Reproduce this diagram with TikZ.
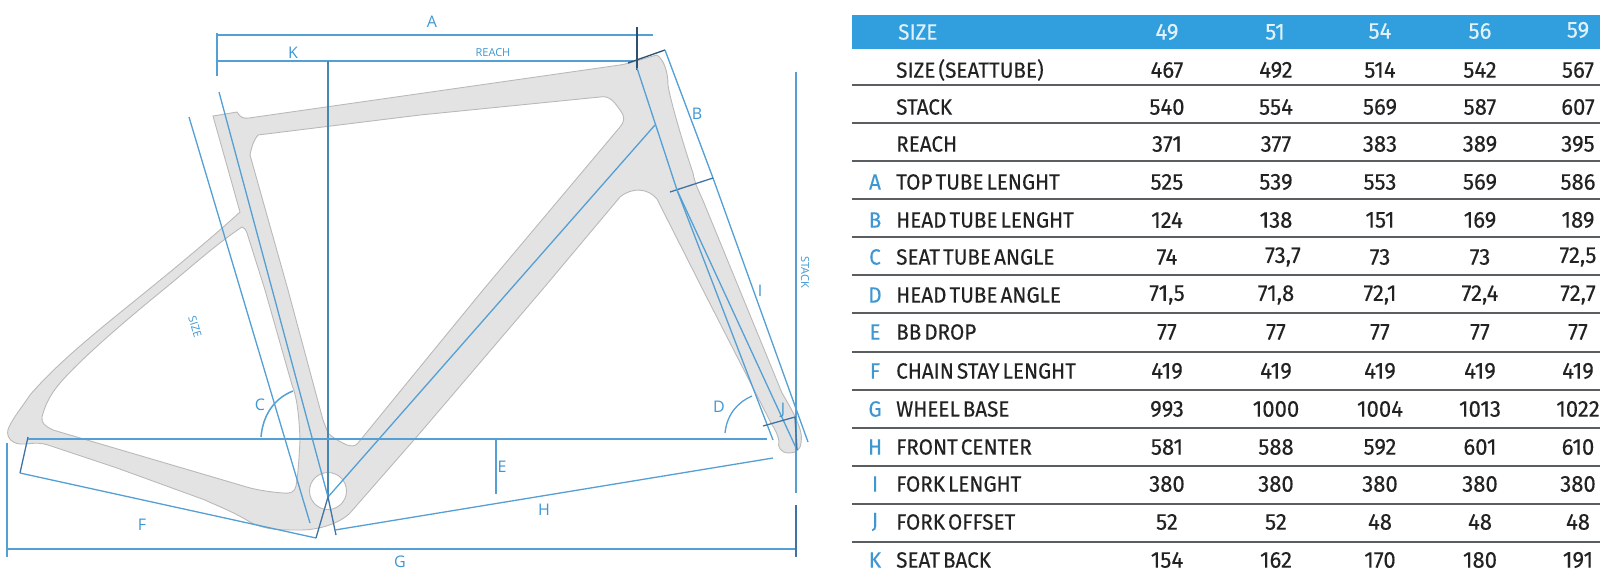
\documentclass[tikz,border=0pt]{standalone}
\usepackage{fontspec}
\setmainfont{Fira Sans}
\newfontfamily\tabfont[FakeStretch=0.94,FakeBold=0.3,WordSpace=0.55]{Fira Sans}
\newfontfamily\numfont[FakeStretch=0.96,FakeBold=0.25]{Fira Sans}
\newfontfamily\dimfont{Open Sans}
\definecolor{dimblue}{HTML}{549FD4}
\definecolor{darkdim}{HTML}{3F73A3}
\definecolor{lettblue}{HTML}{3E97D1}
\definecolor{headblue}{HTML}{319FDD}
\definecolor{framefill}{HTML}{E3E3E3}
\definecolor{frameline}{HTML}{B9B9B9}
\definecolor{rule}{HTML}{5A5E60}
\definecolor{ink}{HTML}{222222}
\tikzset{
  dimline/.style={draw=dimblue,line width=1.3pt},
  darkline/.style={draw=darkdim,line width=1.3pt},
  dimlabel/.style={text=lettblue,font=\dimfont\fontsize{16}{16}\selectfont,inner sep=0pt},
  smalllabel/.style={text=lettblue,font=\dimfont\fontsize{11}{11}\selectfont,inner sep=0pt},
  rowlabel/.style={text=ink,font=\tabfont\fontsize{22}{22}\selectfont,anchor=west,inner sep=0pt},
  rowvalue/.style={text=ink,font=\numfont\fontsize{23}{23}\selectfont,inner sep=0pt},
  headtext/.style={text=white!85!headblue,font=\numfont\fontsize{23}{23}\selectfont,inner sep=0pt},
  headlabel/.style={text=white!85!headblue,font=\tabfont\fontsize{22}{22}\selectfont,inner sep=0pt,anchor=west},
  rowletter/.style={text=lettblue,font=\tabfont\fontsize{22}{22}\selectfont,inner sep=0pt},
  rowrule/.style={draw=rule,line width=1.7pt},
}
\newcommand{\trow}[9]{%
  \node[rowletter] (l#1) at (875,#2) {#3};
  \node[rowlabel] (t#1) at (896,#2) {#4};
  \node[rowvalue] (a#1) at (1167,#2) {#5};
  \node[rowvalue] (b#1) at (1276,#2) {#6};
  \node[rowvalue] (c#1) at (1380,#2) {#7};
  \node[rowvalue] (d#1) at (1480,#2) {#8};
  \node[rowvalue] (e#1) at (1578,#2) {#9};
}
\begin{document}
\begin{tikzpicture}[x=1pt,y=-1pt]
\useasboundingbox (0,0) rectangle (1610,579);
% frame
\path[fill=framefill,draw=frameline,line width=0.9pt,even odd rule]
  (213,116) -- (237,112) .. controls (240,117) and (243,119) .. (249,118)
  -- (620,65) .. controls (632,63) and (645,58) .. (657,55)
  .. controls (664,60) and (668,72) .. (668,85)
  .. controls (670,100) and (685,150) .. (693,173)
  .. controls (695,185) and (700,193) .. (704,203)
  -- (782,393) .. controls (792,410) and (804,430) .. (801,443)
  .. controls (800,451) and (795,453) .. (789,453)
  .. controls (781,453) and (777,447) .. (779,441)
  .. controls (778,435) and (775,429) .. (771,423)
  -- (703,290) -- (657,199)
  .. controls (648,188) and (632,187) .. (620,197)
  -- (542,290) -- (420,433) -- (350,513)
  .. controls (340,523) and (320,530) .. (300,530)
  .. controls (280,530) and (265,530) .. (250,522)
  .. controls (230,510) and (215,505) .. (205,500)
  -- (117,468) -- (48,445)
  .. controls (35,441) and (28,445) .. (20,444)
  .. controls (10,443) and (5,435) .. (9,427)
  .. controls (15,415) and (20,410) .. (30,395)
  .. controls (60,360) and (105,325) .. (148,290)
  .. controls (180,264) and (215,235) .. (240,212)
  -- cycle
  % front triangle hole
  (258,135) -- (420,115) -- (600,97)
  .. controls (610,95) and (615,103) .. (620,110)
  .. controls (626,118) and (624,122) .. (620,127)
  -- (483,290) -- (420,367) -- (358,443)
  .. controls (355,447) and (351,446) .. (347,445)
  .. controls (338,441) and (332,437) .. (328,433)
  -- (323,420) -- (288,290) -- (250,155)
  .. controls (252,145) and (254,140) .. (258,135) -- cycle
  % rear triangle hole
  (242,227) .. controls (245,228) and (246,230) .. (247,233)
  -- (265,290) -- (292,385)
  .. controls (296,395) and (299,410) .. (300,440)
  .. controls (299,460) and (298,475) .. (296,486)
  .. controls (295,492) and (290,494) .. (283,493)
  .. controls (270,492) and (255,490) .. (240,485)
  -- (53,430) .. controls (45,426) and (41,423) .. (42,417)
  .. controls (45,405) and (50,395) .. (60,383)
  .. controls (80,360) and (120,325) .. (163,290)
  .. controls (190,268) and (215,245) .. (242,227) -- cycle
  (346.5,491) arc[start angle=0,end angle=360,radius=18.5];
% named points
\coordinate (aL) at (217,35);\coordinate (aR) at (653,35);
\coordinate (kL) at (217,61);\coordinate (kR) at (633,61);
\coordinate (tickTop) at (217,33);\coordinate (tickBot) at (217,76);
\coordinate (kv) at (328,61);\coordinate (bb) at (328,497);
\coordinate (hdTop) at (637,27);\coordinate (hdBot) at (637,70);
\coordinate (capL) at (628,63);\coordinate (capR) at (665,50);
\coordinate (bEnd) at (713,178);\coordinate (iEnd) at (808,442);
\coordinate (cnTick) at (670,192);
\coordinate (steerT) at (637,68);\coordinate (steerM) at (677,190);\coordinate (steerB) at (773,440);
\coordinate (forkB) at (797,450);
\coordinate (stT) at (219,92);
\coordinate (szT) at (189,117);\coordinate (szB) at (310,523);
\coordinate (dtT) at (655,125);
\coordinate (fA) at (28,437);\coordinate (fB) at (20,473);\coordinate (fC) at (316,538);
\coordinate (hA) at (336,535);\coordinate (hB) at (335,530);\coordinate (hC) at (773,458);
\coordinate (wbL) at (28,439);\coordinate (wbR) at (767,439);
\coordinate (gL) at (7,549);\coordinate (gR) at (796,549);
\coordinate (gLt) at (7,443);\coordinate (gLb) at (7,557);
\coordinate (gRt) at (796,505);\coordinate (gRb) at (796,557);
\coordinate (stackT) at (796,72);\coordinate (stackB) at (796,493);
\coordinate (eT) at (496,439);\coordinate (eB) at (496,494);
\coordinate (jL) at (763,426);\coordinate (jR) at (795,417);
\coordinate (cA) at (261,437);\coordinate (cB) at (293,391);
\coordinate (dA) at (725,433);\coordinate (dB) at (752,396);
% dimension lines
\draw[dimline] (aL) -- (aR);
\draw[dimline] (kL) -- (kR);
\draw[dimline] (tickTop) -- (tickBot);
\draw[dimline,draw=dimblue!85!black] (kv) -- (bb);
\draw[darkline,draw=darkdim!70!black] (hdTop) -- (hdBot);
\draw[darkline,draw=darkdim!70!black] (capL) -- (capR);
\draw[dimline] (capR) -- (bEnd) -- (iEnd);
\draw[darkline] (cnTick) -- (bEnd);
\draw[dimline] (steerT) -- (steerM) -- (steerB);
\draw[dimline] (steerM) -- (forkB);
\draw[dimline] (stT) -- (bb);
\draw[dimline] (szT) -- (szB);
\draw[dimline] (bb) -- (dtT);
\draw[darkline] (fA) -- (fB);
\draw[dimline] (fB) -- (fC);
\draw[darkline] (fC) -- (bb) -- (hA);
\draw[dimline] (hB) -- (hC);
\draw[dimline] (wbL) -- (wbR);
\draw[dimline] (gL) -- (gR);
\draw[dimline] (gLt) -- (gLb);
\draw[darkline] (gRt) -- (gRb);
\draw[dimline] (stackT) -- (stackB);
\draw[dimline] (eT) -- (eB);
\draw[darkline] (jL) -- (jR) -- (forkB);
\draw[dimline,line width=1.5pt] (cA) .. controls (263,414) and (275,398) .. (cB);
\draw[dimline,line width=1.3pt] (dA) .. controls (727,414) and (738,402) .. (dB);
% dimension labels
\node[dimlabel] (lbA) at (432,22) {A};
\node[dimlabel] (lbK) at (293,53) {K};
\node[smalllabel] (lbReach) at (493,53) {REACH};
\node[dimlabel] (lbB) at (697,114) {B};
\node[dimlabel] (lbI) at (760,291) {I};
\node[smalllabel,rotate=-90] (lbStack) at (805,272) {STACK};
\node[smalllabel,rotate=-73] (lbSize) at (195,327) {SIZE};
\node[dimlabel] (lbC) at (260,405) {C};
\node[dimlabel] (lbD) at (719,407) {D};
\node[dimlabel] (lbJ) at (783,410) {J};
\node[dimlabel] (lbE) at (502,467) {E};
\node[dimlabel] (lbH) at (544,510) {H};
\node[dimlabel] (lbF) at (142,525) {F};
\node[dimlabel] (lbG) at (400,562) {G};
% table
\fill[headblue] (852,15) rectangle (1600,49);
\node[headlabel] (hSize) at (898,32) {SIZE};
\node[headtext] (h49) at (1167,32) {49};
\node[headtext] (h51) at (1275,32) {51};
\node[headtext] (h54) at (1380,31) {54};
\node[headtext] (h56) at (1480,31) {56};
\node[headtext] (h59) at (1578,30) {59};
\foreach \y in {85,123,161,199,237,275,313,352,390,428,466,504,542}
  \draw[rowrule] (852,\y) -- (1600,\y);
\trow{r1}{70}{}{SIZE (SEATTUBE)}{467}{492}{514}{542}{567}
\trow{r2}{107}{}{STACK}{540}{554}{569}{587}{607}
\trow{r3}{144}{}{REACH}{371}{377}{383}{389}{395}
\trow{r4}{182}{A}{TOP TUBE LENGHT}{525}{539}{553}{569}{586}
\trow{r5}{220}{B}{HEAD TUBE LENGHT}{124}{138}{151}{169}{189}
\trow{r6}{257}{C}{SEAT TUBE ANGLE}{74}{\hspace*{14pt}73,7}{73}{73}{72,5}
\trow{r7}{295}{D}{HEAD TUBE ANGLE}{71,5}{71,8}{72,1}{72,4}{72,7}
\trow{r8}{332}{E}{BB DROP}{77}{77}{77}{77}{77}
\trow{r9}{371}{F}{CHAIN STAY LENGHT}{419}{419}{419}{419}{419}
\trow{r10}{409}{G}{WHEEL BASE}{993}{1000}{1004}{1013}{1022}
\trow{r11}{447}{H}{FRONT CENTER}{581}{588}{592}{601}{610}
\trow{r12}{484}{I}{FORK LENGHT}{380}{380}{380}{380}{380}
\trow{r13}{522}{J}{FORK OFFSET}{52}{52}{48}{48}{48}
\trow{r14}{560}{K}{SEAT BACK}{154}{162}{170}{180}{191}
\end{tikzpicture}
\end{document}
